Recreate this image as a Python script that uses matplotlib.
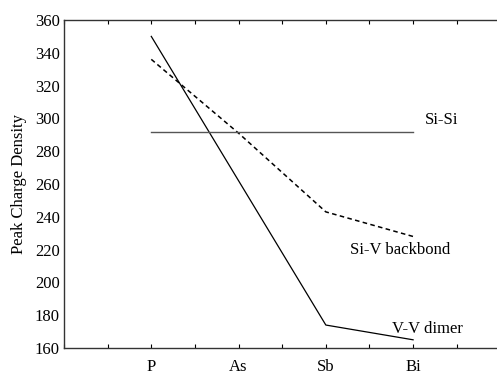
import matplotlib
matplotlib.use("Agg")
import matplotlib.pyplot as plt

categories = ["P", "As", "Sb", "Bi"]
cat_pos = [2, 4, 6, 8]
vv_dimer = [350, 262, 174, 165]
siv_backbond = [336, 291, 243, 228]
sisi = [292, 292, 292, 292]
yticks = [160, 180, 200, 220, 240, 260, 280, 300, 320, 340, 360]

plt.rcParams['font.family'] = ['Liberation Serif', 'DejaVu Serif']
plt.rcParams['font.size'] = 12

fig = plt.figure(figsize=(4.97, 3.75), dpi=100)
ax = fig.add_axes([0.1288, 0.072, 0.878, 0.8747])

ax.plot(cat_pos, vv_dimer, color='black', lw=0.9)
ax.plot(cat_pos, siv_backbond, color='black', lw=1.1, linestyle=(0, (3, 2.2)))
ax.plot(cat_pos, sisi, color='#555555', lw=1.0)

ax.text(8.28, 299, "Si-Si", va='center', ha='left', fontsize=12)
ax.text(6.56, 219.5, "Si-V backbond", va='center', ha='left', fontsize=12)
ax.text(7.52, 171.6, "V-V dimer", va='center', ha='left', fontsize=12)

ax.set_xlim(0, 10)
ax.set_ylim(160, 360)
ax.set_xticks(range(0, 11))
ax.set_xticklabels(["" if i not in cat_pos else categories[cat_pos.index(i)] for i in range(11)])
ax.set_yticks(yticks)
ax.set_ylabel("Peak Charge Density", fontsize=12, labelpad=6)

ax.tick_params(axis='x', direction='in', length=3, width=0.8, top=True, pad=8)
ax.tick_params(axis='y', direction='in', length=0, left=True, right=False, pad=3)
for sp in ax.spines.values():
    sp.set_linewidth(1.0)
    sp.set_color('#333333')
# right-side inward ticks
ax2 = ax.twinx()
ax2.set_ylim(160, 360)
ax2.set_yticks(yticks)
ax2.set_yticklabels([])
ax2.tick_params(axis='y', direction='in', length=2.5, width=0.8)
for sp in ax2.spines.values():
    sp.set_visible(False)

fig.savefig("out.png", dpi=100)
